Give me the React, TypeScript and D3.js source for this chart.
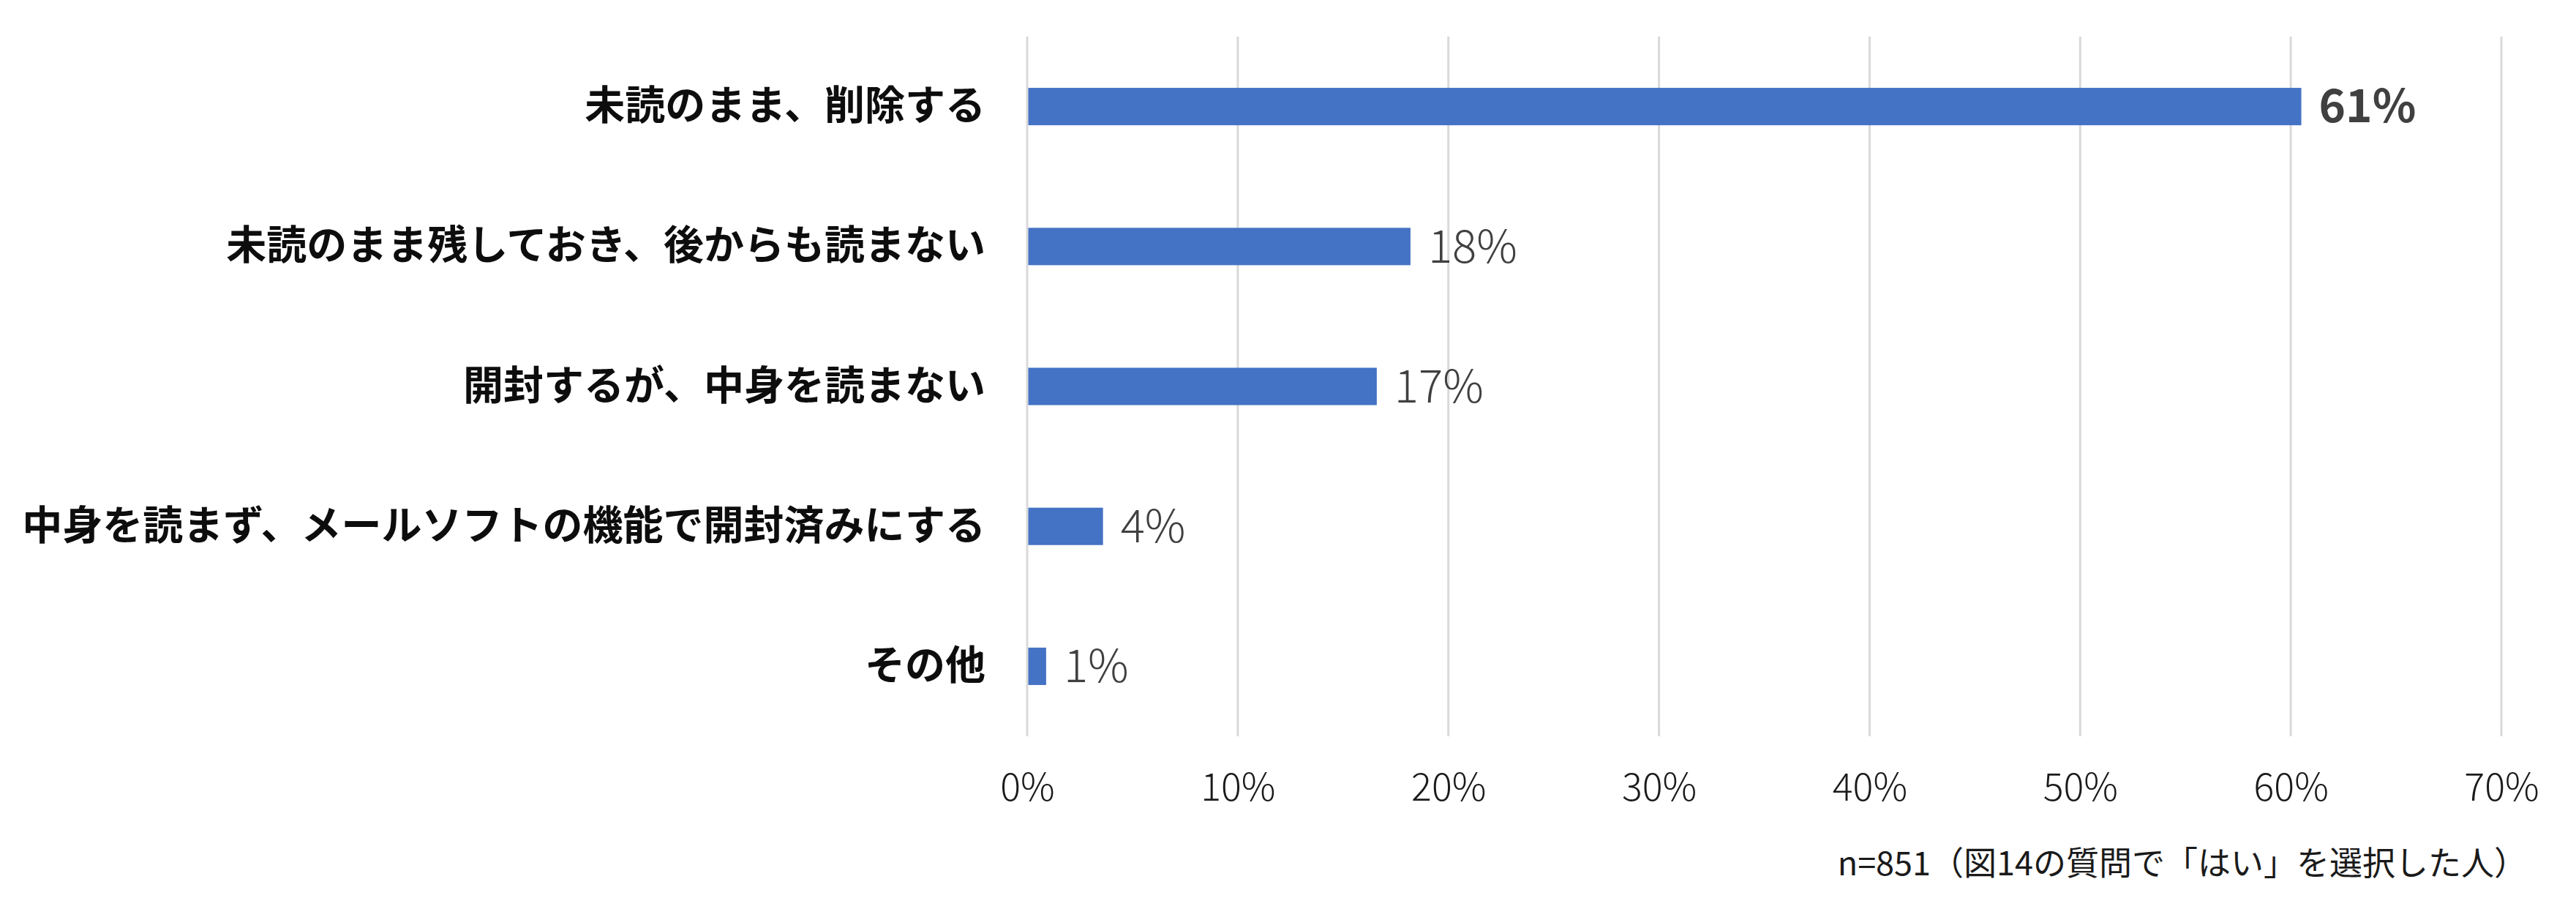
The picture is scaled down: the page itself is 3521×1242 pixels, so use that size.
import { useEffect, useRef } from 'react';
import * as d3 from 'd3';

// answers (top to bottom) and share of respondents
const categories = [
  '未読のまま、削除する',
  '未読のまま残しておき、後からも読まない',
  '開封するが、中身を読まない',
  '中身を読まず、メールソフトの機能で開封済みにする',
  'その他',
];
const values = [0.605, 0.182, 0.166, 0.036, 0.009];
const valueLabels = ['61%', '18%', '17%', '4%', '1%'];
const xTicks = [0, 0.1, 0.2, 0.3, 0.4, 0.5, 0.6, 0.7];
const note = 'n=851（図14の質問で「はい」を選択した人）';

const FONT = '"Noto Sans CJK JP", "Noto Sans", sans-serif';

export default function App() {
  const svgRef = useRef<SVGSVGElement | null>(null);

  useEffect(() => {
    if (!svgRef.current) return;
    const svg = d3.select(svgRef.current);
    svg.selectAll('*').remove();

    const width = 3521;
    const height = 1242;
    const margin = { top: 50, right: 102, bottom: 236, left: 1404 };

    svg.attr('viewBox', `0 0 ${width} ${height}`);
    svg.append('rect').attr('width', width).attr('height', height).attr('fill', '#fff');

    const x = d3.scaleLinear().domain([0, 0.7]).range([margin.left, width - margin.right]);
    const y = d3
      .scaleBand<string>()
      .domain(categories)
      .range([margin.top, height - margin.bottom])
      .paddingInner(0.733)
      .paddingOuter(0.3665);

    // vertical grid lines
    svg
      .append('g')
      .selectAll('line')
      .data(xTicks)
      .join('line')
      .attr('x1', (d) => x(d))
      .attr('x2', (d) => x(d))
      .attr('y1', margin.top)
      .attr('y2', height - margin.bottom)
      .attr('stroke', '#d9d9d9')
      .attr('stroke-width', 3);

    // x tick labels
    const xAxis = svg
      .append('g')
      .attr('transform', `translate(0, ${height - margin.bottom})`)
      .call(
        d3
          .axisBottom(x)
          .tickValues(xTicks)
          .tickSize(0)
          .tickPadding(0)
          .tickFormat((d) => `${Math.round(+d * 100)}%`)
      );
    xAxis.select('.domain').remove();
    xAxis
      .selectAll('.tick text')
      .attr('y', 70)
      .attr('dy', '0.35em')
      .attr('fill', '#1a1a1a')
      .style('font-family', FONT)
      .style('font-size', '52px')
      .style('font-weight', 300);

    // category labels
    const yAxis = svg
      .append('g')
      .attr('transform', `translate(${margin.left}, 0)`)
      .call(d3.axisLeft(y).tickSize(0).tickPadding(57));
    yAxis.select('.domain').remove();
    yAxis
      .selectAll('.tick text')
      .attr('fill', '#0d0d0d')
      .style('font-family', FONT)
      .style('font-size', '55px')
      .style('font-weight', 700);

    const rows = categories.map((c, i) => ({ c, v: values[i], label: valueLabels[i], i }));

    // bars
    svg
      .append('g')
      .selectAll('rect')
      .data(rows)
      .join('rect')
      .attr('x', x(0) + 1.5)
      .attr('y', (d) => y(d.c) ?? 0)
      .attr('width', (d) => x(d.v) - x(0) - 1.5)
      .attr('height', y.bandwidth())
      .attr('fill', '#4472c4');

    // value labels
    svg
      .append('g')
      .selectAll('text')
      .data(rows)
      .join('text')
      .attr('x', (d) => x(d.v) + 24)
      .attr('y', (d) => (y(d.c) ?? 0) + y.bandwidth() / 2)
      .attr('dy', '0.35em')
      .attr('fill', '#404040')
      .style('font-family', FONT)
      .style('font-size', '62px')
      .style('font-weight', (d) => (d.i === 0 ? 700 : 300))
      .text((d) => d.label);

    // sample note
    svg
      .append('text')
      .attr('x', 3454)
      .attr('y', 1180)
      .attr('dy', '0.35em')
      .attr('text-anchor', 'end')
      .attr('fill', '#1a1a1a')
      .style('font-family', FONT)
      .style('font-size', '45px')
      .style('font-weight', 400)
      .text(note);
  }, []);

  return (
    <svg
      ref={svgRef}
      width={3521}
      height={1242}
      style={{ position: 'absolute', left: 0, top: 0, display: 'block' }}
      role="img"
      aria-label="Bar chart"
    />
  );
}
